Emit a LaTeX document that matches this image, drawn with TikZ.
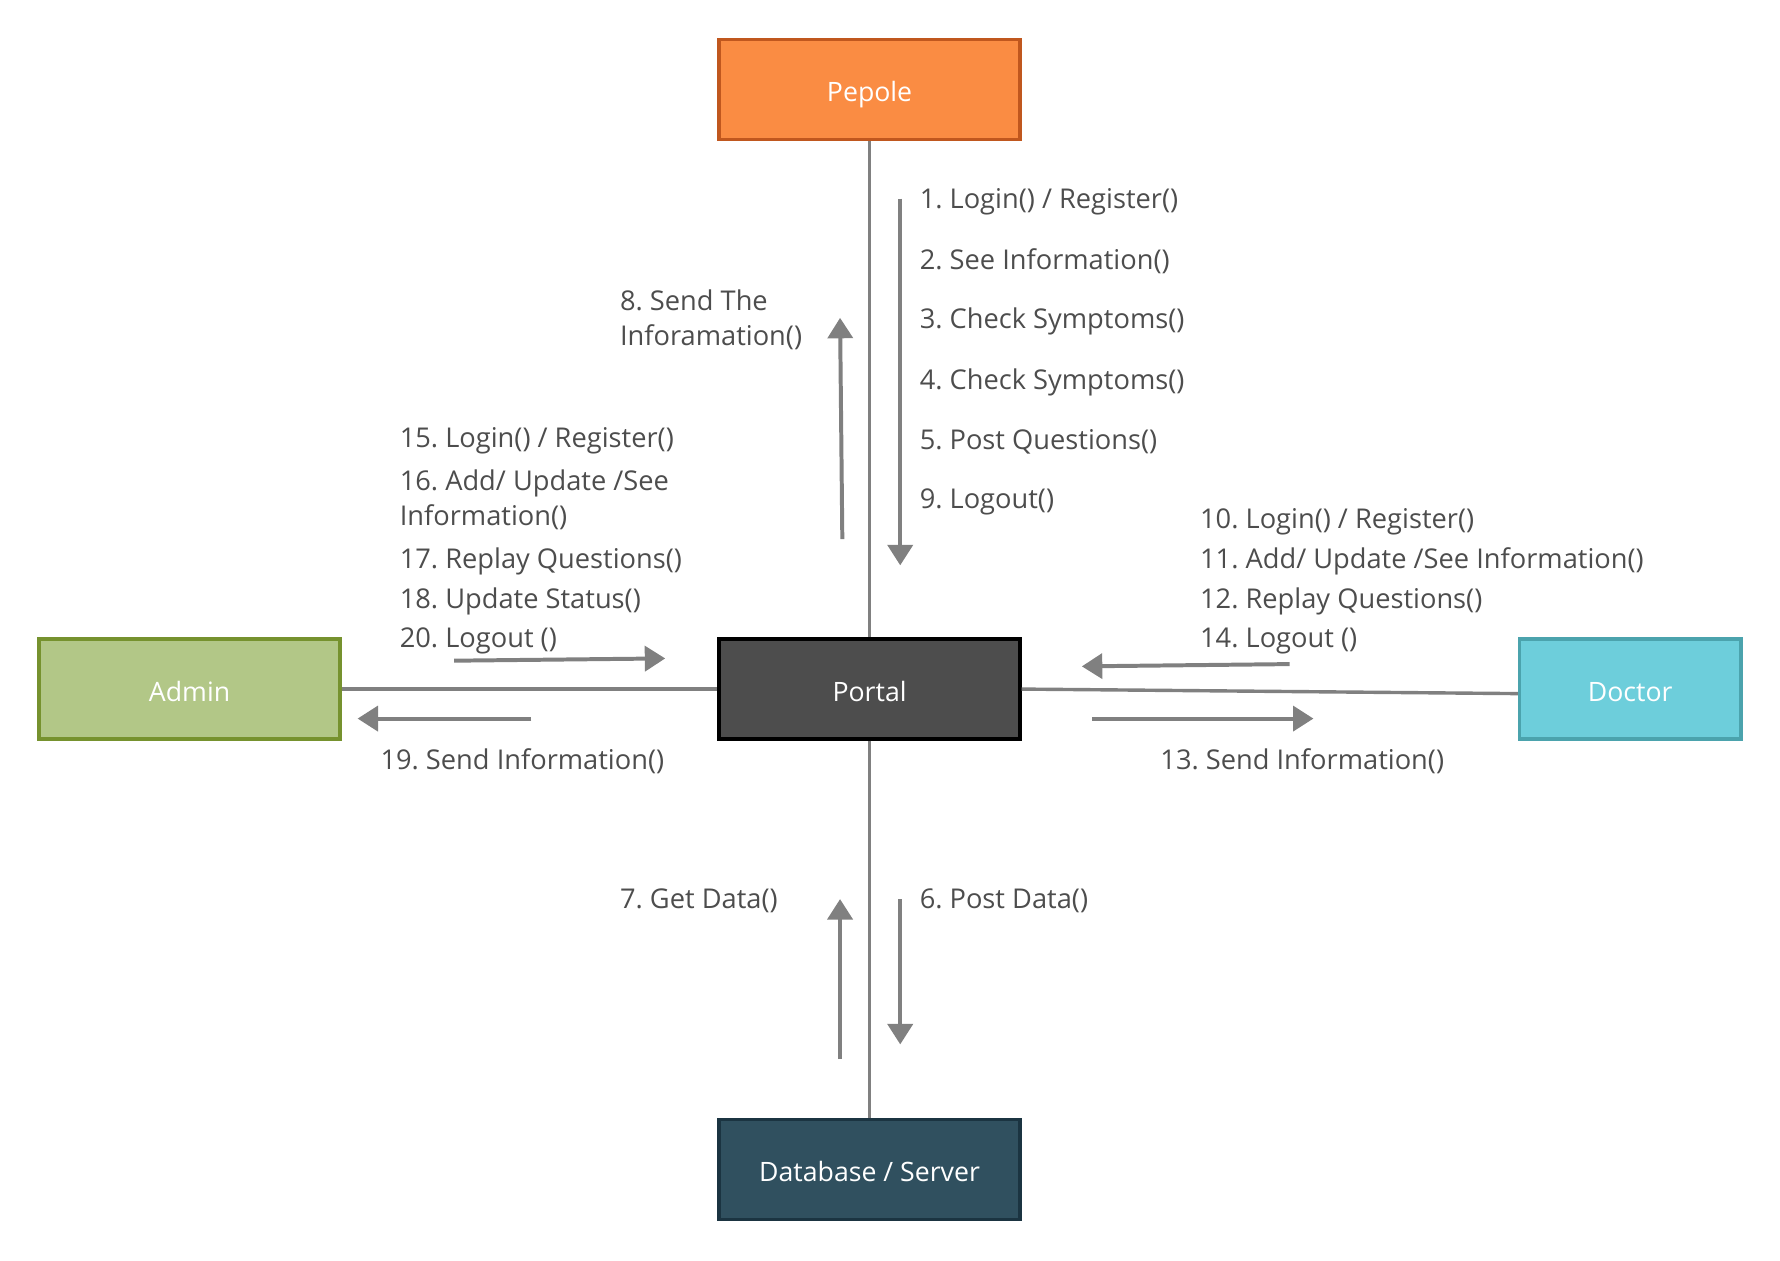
\documentclass[tikz,border=0pt]{standalone}
\usepackage{fontspec}
\setmainfont{Open Sans}
\usetikzlibrary{arrows.meta}
\definecolor{txt}{HTML}{4D4D4D}
\definecolor{ln}{HTML}{808080}
\definecolor{pepF}{HTML}{FA8C43}
\definecolor{pepD}{HTML}{C0571E}
\definecolor{admF}{HTML}{B2C787}
\definecolor{admD}{HTML}{76922E}
\definecolor{docF}{HTML}{6DCEDB}
\definecolor{docD}{HTML}{4BA3AD}
\definecolor{porF}{HTML}{4D4D4D}
\definecolor{dbF}{HTML}{30505F}
\definecolor{dbD}{HTML}{1B3441}
\frenchspacing
\begin{document}
\begin{tikzpicture}[x=1pt,y=-1pt,
  box/.style={draw, line width=3pt, minimum width=265pt, minimum height=88pt, inner sep=0pt, text height=21.5pt, text depth=0pt, text=white, font=\fontsize{23.5}{28}\selectfont},
  lbl/.style={anchor=west, inner sep=0pt, yshift=-2.5pt, text=txt, align=left, font=\fontsize{24}{31}\selectfont},
  conn/.style={draw=ln, line width=3pt},
  msg/.style={draw=ln, line width=3.5pt, -{Triangle[length=18pt,width=22pt]}}]
\useasboundingbox (0,0) rectangle (1568,1110);
\node[box, fill=pepF, draw=pepD] (pep) at (766,79) {Pepole};
\node[box, fill=porF, draw=black] (por) at (766,607) {Portal};
\node[box, fill=admF, draw=admD] (adm) at (167,607) {Admin};
\node[box, fill=docF, draw=docD, minimum width=195pt] (doc) at (1436,607) {Doctor};
\node[box, fill=dbF, draw=dbD] (db) at (766,1030) {Database / Server};
\draw[conn] (pep.south) -- (por.north);
\draw[conn] (por.south) -- (db.north);
\draw[conn] (adm.east) -- (por.west);
\draw[conn] (por.east) -- ([yshift=-4pt]doc.west);
% message arrows
\coordinate (a1s) at (793,175); \coordinate (a1e) at (793,498);
\coordinate (a2s) at (742,475); \coordinate (a2e) at (740,280);
\coordinate (a3s) at (400,582); \coordinate (a3e) at (586,580);
\coordinate (a4s) at (468,633); \coordinate (a4e) at (315,633);
\coordinate (a5s) at (1136,585); \coordinate (a5e) at (953,587);
\coordinate (a6s) at (962,633); \coordinate (a6e) at (1157,633);
\coordinate (a7s) at (740,933); \coordinate (a7e) at (740,792);
\coordinate (a8s) at (793,792); \coordinate (a8e) at (793,920);
\foreach \i in {1,...,8} \draw[msg] (a\i s) -- (a\i e);
% labels
\node[lbl] (l1) at (810,175) {1. Login() / Register()};
\node[lbl] (l2) at (810,228) {2. See Information()};
\node[lbl] (l3) at (810,281) {3. Check Symptoms()};
\node[lbl] (l4) at (810,334) {4. Check Symptoms()};
\node[lbl] (l5) at (810,387) {5. Post Questions()};
\node[lbl] (l9) at (810,440) {9. Logout()};
\node[lbl] (l8) at (546,279) {8. Send The\\Inforamation()};
\node[lbl] (l15) at (352,386) {15. Login() / Register()};
\node[lbl] (l16) at (352,438) {16. Add/ Update /See\\Information()};
\node[lbl] (l17) at (352,492) {17. Replay Questions()};
\node[lbl] (l18) at (352,527) {18. Update Status()};
\node[lbl] (l20) at (352,562) {20. Logout ()};
\node[lbl] (l10) at (1057,457) {10. Login() / Register()};
\node[lbl] (l11) at (1057,492) {11. Add/ Update /See Information()};
\node[lbl] (l12) at (1057,527) {12. Replay Questions()};
\node[lbl] (l14) at (1057,562) {14. Logout ()};
\node[lbl] (l19) at (335,668) {19. Send Information()};
\node[lbl] (l13) at (1022,668) {13. Send Information()};
\node[lbl] (l7) at (546,791) {7. Get Data()};
\node[lbl] (l6) at (810,791) {6. Post Data()};
\end{tikzpicture}
\end{document}
